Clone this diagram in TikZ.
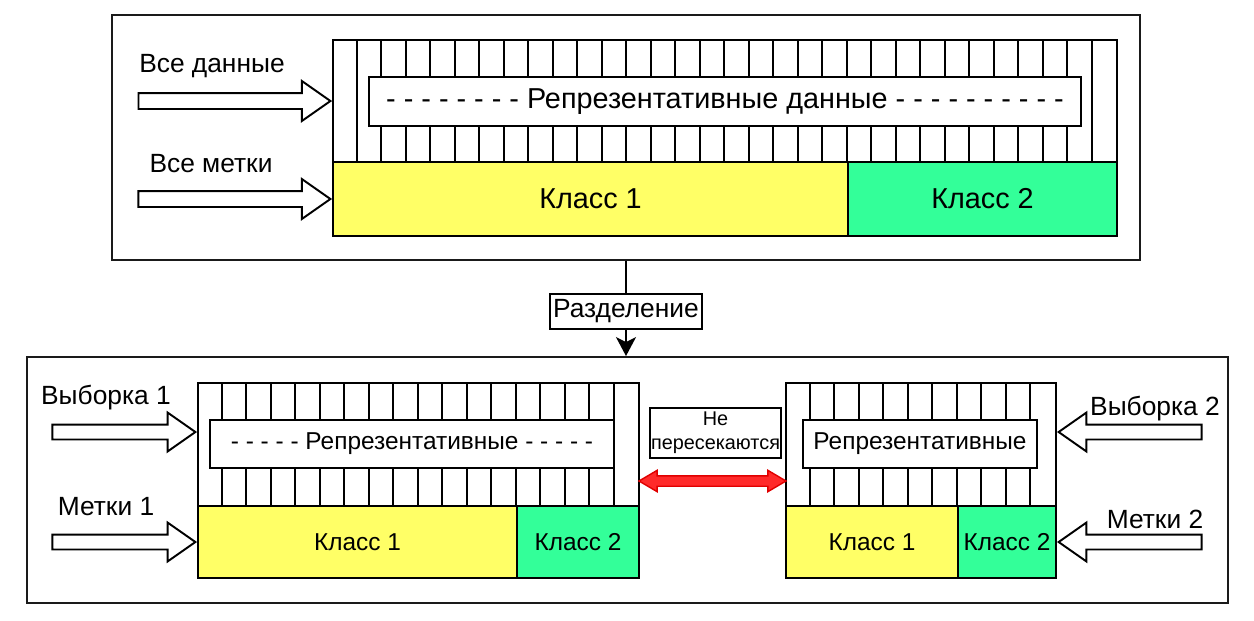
\documentclass[tikz,border=0pt]{standalone}
\usepackage{fontspec}
\setmainfont{Liberation Sans}
\usetikzlibrary{calc,arrows.meta,shapes.arrows}
\definecolor{ink}{HTML}{000000}
\definecolor{frameline}{HTML}{1A1A1A}
\definecolor{yellowcls}{HTML}{FFFF66}
\definecolor{greencls}{HTML}{33FF99}
\definecolor{apartfill}{HTML}{FF2A2A}
\definecolor{apartline}{HTML}{E00000}
\tikzset{
  frm/.style={draw=frameline, line width=1.1pt, inner sep=0pt},
  cell/.style={draw=ink, line width=1.1pt, inner sep=0pt},
  repbox/.style={cell, fill=white},
  clsone/.style={cell, fill=yellowcls},
  clstwo/.style={cell, fill=greencls},
  bigtxt/.style={font=\fontsize{16.4}{19}\selectfont},
  midtxt/.style={font=\fontsize{15}{18}\selectfont},
  smalltxt/.style={font=\fontsize{13.9}{16}\selectfont},
  tinytxt/.style={font=\fontsize{11.3}{13.6}\selectfont, align=center},
  feedr/.style={single arrow, draw=ink, fill=white, line width=1.1pt, inner sep=0.14cm,
    single arrow head extend=0.24cm, single arrow tip angle=70},
  feedl/.style={feedr, shape border rotate=180},
  apartarrow/.style={double arrow, draw=apartline, fill=apartfill, line width=0.8pt, inner sep=0.09cm,
    double arrow head extend=0.11cm, double arrow tip angle=61},
  flowline/.style={draw=ink, line width=1.1pt, -{Stealth[length=0.38cm,width=0.4cm,inset=0.1cm]}},
  splittag/.style={draw=ink, fill=white, line width=1.1pt, inner sep=2pt},
}
\begin{document}
\begin{tikzpicture}[x=0.02cm,y=-0.02cm]
  \useasboundingbox (0,0) rectangle (1254,620);
  % all the data
  \node[frm, minimum width=20.56cm, minimum height=4.9cm] (upper) at (626,137.5) {};
  \node[cell, minimum width=15.68cm, minimum height=2.44cm] (dataA) at (725,101) {};
  \foreach \i in {1,...,31}
    \draw[cell] ($(dataA.north west)+(24.5*\i,0)$) -- ($(dataA.south west)+(24.5*\i,0)$);
  \node[repbox, bigtxt, minimum width=14.24cm, minimum height=0.98cm] (repA) at (725,101.5)
    {- - - - - - - - Репрезентативные данные - - - - - - - - - -};
  \node[clsone, bigtxt, minimum width=10.3cm, minimum height=1.48cm] (kA1) at (590.5,199) {Класс 1};
  \node[clstwo, bigtxt, minimum width=5.38cm, minimum height=1.48cm] (kA2) at (982.5,199) {Класс 2};
  \node[feedr, minimum height=3.84cm, anchor=tip] (inData) at (dataA.west) {};
  \node[feedr, minimum height=3.84cm, anchor=tip] (inLbl) at (kA1.west) {};
  \node[midtxt] (allData) at (212,66) {Все данные};
  \node[midtxt] (allLbl) at (211,164) {Все метки};

  % after the split
  \node[frm, minimum width=24.02cm, minimum height=4.92cm] (lower) at (627.5,480) {};
  \draw[flowline] (upper.south) -- node[pos=0.53, splittag, midtxt, minimum height=0.7cm] (split) {Разделение}
    (upper.south |- lower.north);

  % sample 1
  \node[cell, minimum width=8.82cm, minimum height=2.46cm] (dataL) at (418.5,444.5) {};
  \foreach \i in {1,...,17}
    \draw[cell] ($(dataL.north west)+(24.5*\i,0)$) -- ($(dataL.south west)+(24.5*\i,0)$);
  \node[repbox, smalltxt, minimum width=8.08cm, minimum height=0.96cm] (repL) at (412,444)
    {- - - - - Репрезентативные - - - - -};
  \node[clsone, smalltxt, minimum width=6.38cm, minimum height=1.44cm] (kL1) at (357.5,542) {Класс 1};
  \node[clstwo, smalltxt, minimum width=2.44cm, minimum height=1.44cm] (kL2) at (578,542) {Класс 2};
  \node[feedr, minimum height=2.86cm, anchor=tip, inner sep=0.13cm] (inL) at ([yshift=0.25cm]dataL.west) {};
  \node[feedr, minimum height=2.86cm, anchor=tip, inner sep=0.13cm] (inLL) at (kL1.west) {};
  \node[midtxt] (selL) at (106,398) {Выборка 1};
  \node[midtxt] (lblL) at (106,507) {Метки 1};

  % sample 2
  \node[cell, minimum width=5.4cm, minimum height=2.46cm] (dataR) at (921,444.5) {};
  \foreach \i in {1,...,10}
    \draw[cell] ($(dataR.north west)+(24.5*\i,0)$) -- ($(dataR.south west)+(24.5*\i,0)$);
  \node[repbox, smalltxt, minimum width=4.68cm, minimum height=0.96cm] (repR) at (920,444) {Репрезентативные};
  \node[clsone, smalltxt, minimum width=3.44cm, minimum height=1.44cm] (kR1) at (872,542) {Класс 1};
  \node[clstwo, smalltxt, minimum width=1.96cm, minimum height=1.44cm] (kR2) at (1007,542) {Класс 2};
  \node[feedl, minimum height=2.86cm, anchor=tip, inner sep=0.13cm] (inR) at ([yshift=0.25cm]dataR.east) {};
  \node[feedl, minimum height=2.86cm, anchor=tip, inner sep=0.13cm] (inRL) at (kR2.east) {};
  \node[midtxt] (selR) at (1155,409) {Выборка 2};
  \node[midtxt] (lblR) at (1155,519) {Метки 2};

  % no overlap
  \node[splittag, tinytxt, minimum width=2.62cm, minimum height=1cm, inner sep=0pt] (nocross) at (715.5,433)
    {Не\\пересекаются};
  \coordinate (gapL) at ([yshift=-0.73cm]dataL.east);
  \coordinate (gapR) at ([yshift=-0.73cm]dataR.west);
  \node[apartarrow, minimum height=2.94cm] (apart) at ($(gapL)!0.5!(gapR)$) {};
\end{tikzpicture}
\end{document}
